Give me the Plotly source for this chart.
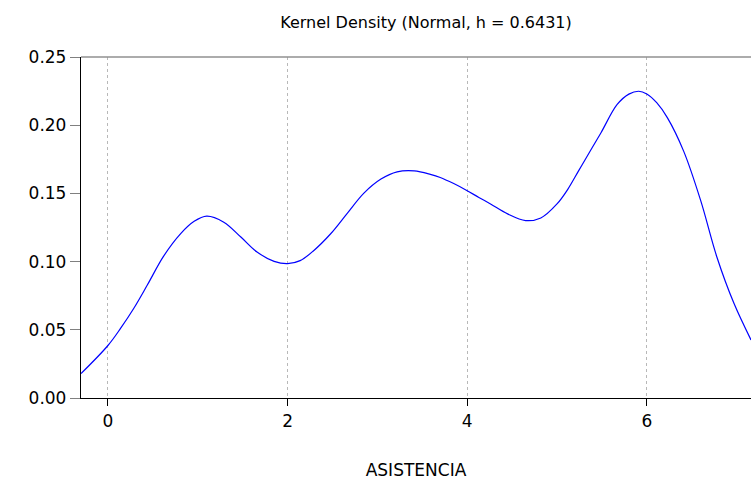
import plotly.graph_objects as go

# Data
asistencia = [-0.30, 0.0, 0.14, 0.29, 0.44, 0.62, 0.81, 0.96, 1.10, 1.29, 1.48, 1.66, 1.85, 2.00,
              2.14, 2.29, 2.48, 2.66, 2.85, 3.04, 3.22, 3.41, 3.59, 3.70, 3.85, 4.00, 4.13, 4.26, 4.45,
              4.65, 4.82, 5.00, 5.12, 5.24, 5.36, 5.49, 5.67, 5.80, 5.91, 6.00, 6.11, 6.23, 6.41,
              6.60, 6.78, 6.97, 7.16]
density = [0.0179, 0.0385, 0.051, 0.066, 0.083, 0.104, 0.1205, 0.1295, 0.1333, 0.1289, 0.118, 0.107, 0.1002, 0.0985,
           0.1007, 0.108, 0.1204, 0.135, 0.1502, 0.1605, 0.1658, 0.1665, 0.164, 0.1617, 0.1572, 0.152, 0.147, 0.1423, 0.135,
           0.1301, 0.132, 0.1423, 0.153, 0.1665, 0.180, 0.1945, 0.2152, 0.2228, 0.2249, 0.2229, 0.2165, 0.2054, 0.181,
           0.1447, 0.1034, 0.0694, 0.0426]

x_ticks = [0, 2, 4, 6]
y_ticks = [0.00, 0.05, 0.10, 0.15, 0.20, 0.25]

FONT = "DejaVu Sans, Liberation Sans, Arial, sans-serif"

fig = go.Figure()
fig.add_trace(go.Scatter(
    x=asistencia, y=density, mode="lines",
    line=dict(color="#0000ff", width=1.2, shape="spline", smoothing=1.0),
    showlegend=False, hoverinfo="x+y",
))

fig.update_layout(
    width=751, height=480,
    margin=dict(l=81, r=0, t=57, b=82),
    paper_bgcolor="white", plot_bgcolor="white",
    font=dict(family=FONT, color="black"),
    title=dict(text="Kernel Density (Normal, h = 0.6431)",
               font=dict(family=FONT, size=16, color="black"),
               x=426 / 751, xref="container", xanchor="center",
               y=1 - 22 / 480, yref="container", yanchor="middle"),
    xaxis=dict(
        range=[-0.30, 7.16], tickvals=x_ticks, ticktext=[str(v) for v in x_ticks],
        showgrid=True, gridcolor="#b8b8b8", griddash="dot", gridwidth=1,
        zeroline=False, showline=True, linecolor="black", linewidth=1.3,
        ticks="outside", ticklen=7, tickcolor="black", tickwidth=1,
        tickfont=dict(family=FONT, size=17, color="black"),
        title=dict(text="ASISTENCIA", font=dict(family=FONT, size=17, color="black"), standoff=34),
    ),
    yaxis=dict(
        range=[0, 0.25], tickvals=y_ticks, tickformat=".2f",
        showgrid=False, zeroline=False, showline=True, linecolor="black", linewidth=1.3,
        ticks="outside", ticklen=10, tickcolor="#808080", tickwidth=1,
        tickfont=dict(family=FONT, size=17, color="black"),
    ),
    shapes=[dict(type="line", xref="paper", yref="paper", x0=0, x1=1, y0=1, y1=1,
                 line=dict(color="#909090", width=1.5))],
)

fig.write_html("out.html")
